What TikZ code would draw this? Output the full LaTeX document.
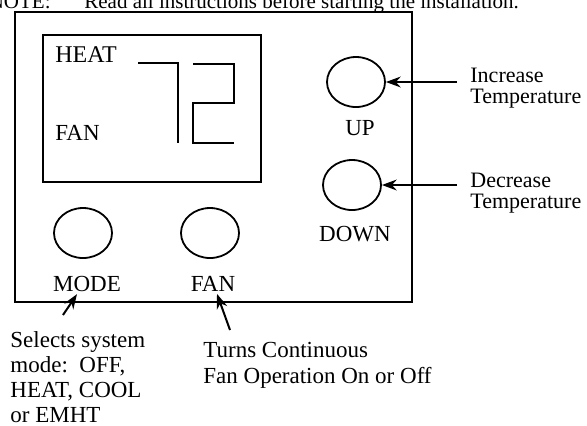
\documentclass[tikz,border=0pt]{standalone}
\usepackage{fontspec}
\setmainfont{Liberation Serif}
\usetikzlibrary{positioning,arrows.meta,shapes.geometric}
\tikzset{
  >={Stealth[length=2.6mm,width=1.9mm]},
  btn/.style={draw,ellipse,line width=0.9pt,minimum width=29pt,
              minimum height=25pt,inner sep=0pt},
  blbl/.style={font=\fontsize{11.5}{13}\selectfont,inner sep=1pt},
  note/.style={font=\fontsize{11.5}{12.5}\selectfont,align=left,inner sep=1pt},
  arr/.style={->,line width=1pt},
  seg/.style={line width=1.3pt},
}
\begin{document}
\begin{tikzpicture}[x=0.5pt,y=-0.5pt]
  \useasboundingbox (0,0) rectangle (587,425);
  % top line of the page, cut off
  \node[note,font=\fontsize{10.5}{12}\selectfont,anchor=base east] (nt) at (53,8) {NOTE:};
  \node[note,font=\fontsize{10.5}{12}\selectfont,anchor=base west] (rd) at (82,8)
       {Read all instructions before starting the installation.};
  % housing and display
  \draw[line width=1pt] (15,12) rectangle (412,302);
  \draw[line width=1pt] (43,35) rectangle (261,182);
  \node[blbl,font=\fontsize{12}{13}\selectfont,anchor=west] (heat) at (53,55) {HEAT};
  \node[blbl,anchor=west] (fanl) at (53,133) {FAN};
  % the "72"
  \draw[seg] (138,63) -- (178,63) -- (178,143);
  \draw[seg] (193,64) -- (234,64) -- (234,103) -- (193,103) -- (193,143) -- (234,143);
  % buttons
  \node[btn] (mode) at (83,233) {};
  \node[btn] (fan)  at (210,233) {};
  \node[btn] (up)   at (356,82) {};
  \node[btn] (down) at (352,185) {};
  \node[blbl,below=7.5pt of mode,xshift=2pt] (modelbl) {MODE};
  \node[blbl,below=7.5pt of fan,xshift=1.5pt] (fanlbl) {FAN};
  \node[blbl,below=5pt of up,xshift=2pt] (uplbl) {UP};
  \node[blbl,below=6.5pt of down,xshift=1.5pt] (downlbl) {DOWN};
  % notes
  \node[note,font=\fontsize{11}{10.5}\selectfont,anchor=west] (inc) at (468,88)
       {Increase\\Temperature};
  \node[note,font=\fontsize{11}{10.5}\selectfont,anchor=west] (dec) at (468,193)
       {Decrease\\Temperature};
  \node[note,anchor=north west] (sel) at (8,329)
       {Selects system\\mode:\ \ OFF,\\HEAT, COOL\\or EMHT};
  \node[note,font=\fontsize{11.5}{13}\selectfont,anchor=north west] (turns) at (201,340)
       {Turns Continuous\\Fan Operation On or Off};
  \draw[arr,shorten <=5.5pt] (up -| inc.west) -- (up);
  \draw[arr,shorten <=5.5pt] (down -| dec.west) -- (down);
  \draw[arr] ([xshift=27.5pt,yshift=7pt]sel.north west) -- ([xshift=-5pt]modelbl.south);
  \draw[arr] ([xshift=14.5pt,yshift=5pt]turns.north west) -- ([xshift=2pt]fanlbl.south);
\end{tikzpicture}
\end{document}
